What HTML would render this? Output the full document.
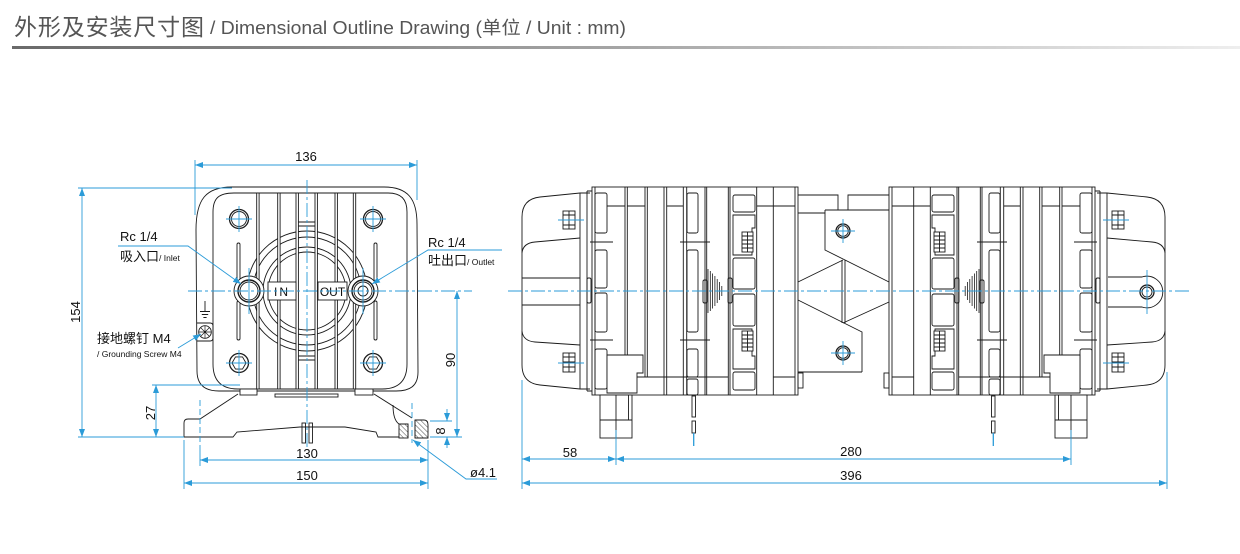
<!DOCTYPE html>
<html><head><meta charset="utf-8">
<style>
html,body{margin:0;padding:0;background:#fff;}
svg{display:block;}
text{font-family:"Liberation Sans","Noto Sans CJK SC",sans-serif;}
</style></head><body>
<svg width="1240" height="554" viewBox="0 0 1240 554" xmlns="http://www.w3.org/2000/svg">
<defs>
<linearGradient id="g" x1="0" x2="1" y1="0" y2="0"><stop offset="0" stop-color="#6a6a6a"/><stop offset="0.5" stop-color="#a6a6a6"/><stop offset="1" stop-color="#eeeeee"/></linearGradient>
<marker id="a" viewBox="0 0 8 6" refX="8" refY="3" markerWidth="8" markerHeight="6" markerUnits="userSpaceOnUse" orient="auto-start-reverse"><path d="M0,0L8,3L0,6z" fill="#2b9bd8"/></marker>
<pattern id="h" width="3.5" height="3.5" patternUnits="userSpaceOnUse" patternTransform="rotate(-45)"><line x1="0" y1="0" x2="0" y2="3.5" stroke="#222" stroke-width="0.8"/></pattern>
</defs>

<!-- Title -->
<text x="14" y="35" font-size="23" fill="#555" textLength="190" font-family="'Liberation Sans','Noto Sans CJK SC',sans-serif">外形及安装尺寸图</text>
<text x="210" y="34" font-size="18" fill="#555" textLength="416" lengthAdjust="spacingAndGlyphs">/ Dimensional Outline Drawing (单位 / Unit : mm)</text>
<rect x="12" y="46" width="1228" height="3" fill="url(#g)"/>

<!-- ================= FRONT VIEW ================= -->
<g fill="none" stroke="#1a1a1a" stroke-width="0.9">
<path d="M196,230 C196,199 206,187 232,187 L384,187 C408,187 417,199 417,224 L418,372 C418,386 410,391 396,391 L219,391 C205,391 197,385 197,371 Z" fill="#fff"/>
<path d="M213,212 C213,198 219,193 234,193 L388,193 C401,193 407,199 407,212 L407,364 C407,381 398,389 382,389 L238,389 C222,389 213,381 213,364 Z"/>
<!-- grille rings -->
<circle cx="307" cy="291" r="60"/>
<circle cx="307" cy="291" r="54"/>
<circle cx="307" cy="291" r="44"/>
<circle cx="307" cy="291" r="39"/>
<!-- fins -->
<g fill="#fff">
<rect x="256.7" y="193" width="2.4" height="196"/>
<rect x="277.7" y="193" width="2.4" height="196"/>
<rect x="296" y="193" width="2.4" height="196"/>
<rect x="315" y="193" width="2.4" height="196"/>
<rect x="335" y="193" width="2.4" height="196"/>
<rect x="353.3" y="193" width="2.4" height="196"/>
</g>
<path d="M298.4,222H315 M298.4,226H315 M298.4,356H315 M298.4,360H315"/>
<!-- slots -->
<rect x="237" y="243" width="3" height="38" rx="1.5"/>
<rect x="237" y="301" width="3" height="39" rx="1.5"/>
<rect x="374" y="243" width="3" height="38" rx="1.5"/>
<rect x="374" y="301" width="3" height="39" rx="1.5"/>
<!-- bosses -->
<circle cx="249" cy="291" r="15" fill="#fff"/>
<circle cx="363" cy="291" r="15" fill="#fff"/>
<circle cx="249" cy="291" r="11" stroke-width="1.4"/>
<circle cx="249" cy="291" r="9"/>
<circle cx="363" cy="291" r="11" stroke-width="1.4"/>
<circle cx="363" cy="291" r="9"/>
<circle cx="363" cy="291" r="5"/>
<!-- IN / OUT boxes -->
<rect x="268" y="282" width="28" height="18" fill="#fff"/>
<rect x="318" y="282" width="29" height="18" fill="#fff"/>
<!-- corner bolts -->
<circle cx="239" cy="219" r="9.5" stroke-width="1.3"/><circle cx="239" cy="219" r="7.5"/>
<circle cx="373" cy="219" r="9.5" stroke-width="1.3"/><circle cx="373" cy="219" r="7.5"/>
<circle cx="239" cy="363" r="9.5" stroke-width="1.3"/><polygon points="246,363 242.5,369.1 235.5,369.1 232,363 235.5,356.9 242.5,356.9"/>
<circle cx="373" cy="363" r="9.5" stroke-width="1.3"/><polygon points="380,363 376.5,369.1 369.5,369.1 366,363 369.5,356.9 376.5,356.9"/>
<!-- feet & bar -->
<rect x="240" y="389" width="17" height="6" fill="#fff"/>
<rect x="355" y="389" width="18" height="6" fill="#fff"/>
<rect x="275" y="394" width="63" height="3" fill="#fff"/>
<!-- ground -->
<path d="M205,301V311 M200,311.5H210 M201.8,314.5H208.2 M203.4,317.5H206.6"/>
<path d="M197,323 H210 Q213,323 213,326 V338 Q213,341 210,341 H197"/>
<circle cx="205" cy="332" r="6.3" fill="#fff"/>
<path d="M200.5,327.5L209.5,336.5 M209.5,327.5L200.5,336.5 M205,325.7V338.3 M198.7,332H211.3" stroke-width="0.7"/>
<!-- base -->
<path d="M238,394 L200,419 L188,419 Q184,419 184,423 L184,437 L233,437 L237,432 L300,427 L345,427 L376,432 L378,437 L399,437"/>
<path d="M374,394 L412,418"/>
<path d="M393,405 Q393,420 399,424"/>
<rect x="399" y="424" width="9" height="14" fill="url(#h)"/>
<path d="M415,420 H424 Q428,420 428,425 V438 H415 Z" fill="url(#h)"/>
<path d="M399,424 H408 V438 M415,420 V438"/>
<!-- pins -->
<rect x="302" y="423" width="3.5" height="20"/>
<rect x="309" y="423" width="3.5" height="20"/>
</g>
<text x="282" y="296" font-size="12" text-anchor="middle" fill="#111" letter-spacing="2">IN</text>
<text x="332.5" y="296" font-size="12" text-anchor="middle" fill="#111">OUT</text>

<!-- front view centerlines & blue -->
<g stroke="#2b9bd8" stroke-width="0.9" fill="none">
<path d="M307,180V450" stroke-dasharray="14 3 3 3"/>
<path d="M188,291H472" stroke-dasharray="14 3 3 3"/>
<path d="M226,219H252 M239,206V232 M360,219H386 M373,206V232 M226,363H252 M239,350V376 M360,363H386 M373,350V376"/>
<path d="M249,268V314 M363,268V314"/>
<path d="M200,400V450" stroke-dasharray="6 3"/>
<path d="M412,403V443" stroke-dasharray="6 3"/>
<path d="M200,450V466 M184,440V489 M428,440V489"/>
<!-- 136 -->
<path d="M195,160V215 M417,160V200"/>
<path d="M195,165H417" marker-start="url(#a)" marker-end="url(#a)"/>
<!-- 154 -->
<path d="M78,188H232 M78,437H184"/>
<path d="M82,188V437" marker-start="url(#a)" marker-end="url(#a)"/>
<!-- 27 -->
<path d="M152,385H240"/>
<path d="M156,385V437" marker-start="url(#a)" marker-end="url(#a)"/>
<!-- 90 / 8 -->
<path d="M430,437H462 M430,421H452"/>
<path d="M457,291V437" marker-start="url(#a)" marker-end="url(#a)"/>
<path d="M447,409V421" marker-end="url(#a)"/>
<path d="M447,448V437" marker-end="url(#a)"/>
<!-- 130 / 150 -->
<path d="M200,460H428" marker-start="url(#a)" marker-end="url(#a)"/>
<path d="M184,483H428" marker-start="url(#a)" marker-end="url(#a)"/>
<!-- leaders -->
<path d="M118,246H188 L241,284" marker-end="url(#a)"/>
<path d="M502,250H428 L372,284" marker-end="url(#a)"/>
<path d="M178,348 L201,334" marker-end="url(#a)"/>
<path d="M497,479H466 L413,440" marker-end="url(#a)"/>
</g>

<g font-size="13" fill="#111">
<text x="306" y="161" text-anchor="middle">136</text>
<text transform="translate(80,312) rotate(-90)" text-anchor="middle">154</text>
<text transform="translate(155,413) rotate(-90)" text-anchor="middle">27</text>
<text transform="translate(455,360) rotate(-90)" text-anchor="middle">90</text>
<text transform="translate(445,431) rotate(-90)" text-anchor="middle">8</text>
<text x="307" y="458" text-anchor="middle">130</text>
<text x="307" y="480" text-anchor="middle">150</text>
<text x="470" y="477">ø4.1</text>
<text x="120" y="241">Rc 1/4</text>
<text x="120" y="261" font-family="'Liberation Sans','Noto Sans CJK SC',sans-serif">吸入口<tspan font-size="8.5">/ Inlet</tspan></text>
<text x="428" y="247">Rc 1/4</text>
<text x="428" y="265" font-family="'Liberation Sans','Noto Sans CJK SC',sans-serif">吐出口<tspan font-size="8.5">/ Outlet</tspan></text>
<text x="97" y="343" font-family="'Liberation Sans','Noto Sans CJK SC',sans-serif">接地螺钉 M4</text>
<text x="97" y="357" font-size="8.5">/ Grounding Screw M4</text>
</g>

<!-- ================= SIDE VIEW ================= -->
<g fill="none" stroke="#1a1a1a" stroke-width="0.9">
<g id="C">
<path d="M590,193 L580,193 L540,197 Q522,199 522,217 L522,365 Q522,383 540,385 L580,389 L590,389" fill="#fff"/>
<path d="M580,193V389 M587,191V391 M587,191H592 M587,391H592"/>
<path d="M522,253 Q523,243 535,242 L580,238 M522,331 Q523,341 535,342 L580,345"/>
<rect x="563" y="211" width="12" height="18" fill="#fff"/>
<path d="M563,215H575 M563,220H575 M563,225H575 M569,211V229"/>
<rect x="563" y="353" width="12" height="19" fill="#fff"/>
<path d="M563,357H575 M563,362H575 M563,367H575 M569,353V372"/>
<rect x="587" y="278" width="4" height="25" rx="1.5"/>
</g>
<path d="M522,278H580 M522,305H580"/>
<use href="#C" transform="matrix(-1 0 0 1 1687 0)"/>
<!-- right cap tab -->
<path d="M1108,277 L1142,277 A15.8,15.8 0 1 1 1142,307 L1108,307" fill="#fff"/>
<circle cx="1147" cy="292" r="7" stroke-width="1.3"/>
<circle cx="1147" cy="292" r="5"/>

<g id="L">
<rect x="592" y="187" width="206" height="208" fill="#fff"/>
<path d="M595,187V395 M625,187V355 M627.3,187V355 M645,187V377 M647.3,187V377 M664,187V395 M666.7,187V395 M683.3,187V395 M686.7,187V395 M705,187V395 M706.7,187V395 M728.3,187V395 M730,187V395 M756.7,187V395 M773.3,187V395 M795,187V395"/>
<path d="M607,206H625 M627,206H645 M667,206H683 M757,206H773 M637,377H728 M773,206H795 M773,377H795"/>
<rect x="595" y="193" width="12" height="40" rx="2"/>
<rect x="595" y="250" width="12" height="38" rx="2"/>
<rect x="595" y="293" width="12" height="39" rx="2"/>
<rect x="595" y="349" width="12" height="40" rx="2"/>
<rect x="687" y="193" width="11" height="40" rx="2"/>
<rect x="687" y="250" width="11" height="82" rx="2"/>
<rect x="687" y="349" width="11" height="28" rx="2"/>
<rect x="687" y="379" width="11" height="16" rx="2"/>
<path d="M590,242H613 M590,340H613 M680,242H710 M680,340H710"/>
<rect x="733" y="195" width="22" height="17" rx="2"/>
<path d="M733,215H755V228H752V255H733Z"/>
<rect x="733" y="258" width="22" height="31" rx="2"/>
<rect x="733" y="294" width="22" height="32" rx="2"/>
<path d="M733,329H752V356H755V369H733Z"/>
<rect x="733" y="372" width="22" height="18" rx="2"/>
<rect x="742" y="232" width="11" height="20" fill="#fff"/>
<path d="M742,236H753 M742,240H753 M742,244H753 M742,248H753 M747.5,232V252"/>
<rect x="742" y="331" width="11" height="20" fill="#fff"/>
<path d="M742,335H753 M742,339H753 M742,343H753 M742,347H753 M747.5,331V351"/>
<rect x="703" y="280" width="4" height="23" rx="1.5"/>
<rect x="728" y="278" width="4" height="25" rx="1.5"/>
<path d="M708,269V313 M710.3,271V311 M712.6,273.5V308.5 M714.9,276V306 M717.2,279V303 M719.5,282V300 M721.8,286V296" stroke-width="0.8"/>
<path d="M607,355H643V373H637V393H607Z" fill="#fff"/>
<rect x="600" y="395" width="32" height="43" fill="#fff"/>
<path d="M616,395V438 M600,420H632 M628.5,395V420"/>
<rect x="692" y="396" width="3.5" height="21" fill="#fff"/>
<rect x="692" y="421" width="3.5" height="12" fill="#fff"/>
</g>
<use href="#L" transform="matrix(-1 0 0 1 1687 0)"/>

<!-- center connector -->
<path d="M798,195H838V210 M848,210V195H889 M798,213H825"/>
<path d="M825,210H889 M825,210V250L889,282"/>
<path d="M862,372H798 M862,372V332L798,300"/>
<path d="M798,282L843,260 M889,302L843,323"/>
<path d="M842,260V323 M845,260V323"/>
<circle cx="843" cy="231" r="7" stroke-width="1.3"/><circle cx="843" cy="231" r="5.3"/>
<circle cx="843" cy="353" r="7" stroke-width="1.3"/><circle cx="843" cy="353" r="5.3"/>
<rect x="798" y="373" width="5" height="15"/>
<rect x="884" y="373" width="5" height="15"/>
</g>

<g stroke="#2b9bd8" stroke-width="0.9" fill="none">
<path d="M508,291H1192" stroke-dasharray="14 3 3 3"/>
<path d="M693.7,433V446 M993.3,433V446" stroke-width="1.3"/>
<path d="M558,220H584 M558,363H584 M1103,220H1129 M1103,363H1129"/>
<path d="M831,231H855 M843,219V243 M831,353H855 M843,341V365"/>
<path d="M1147,270V314"/>
<path d="M522,380V489 M1167,372V489 M616,430V465 M1071,430V465"/>
<path d="M522,459H616" marker-start="url(#a)" marker-end="url(#a)"/>
<path d="M616,459H1071" marker-start="url(#a)" marker-end="url(#a)"/>
<path d="M522,483H1167" marker-start="url(#a)" marker-end="url(#a)"/>
</g>
<g font-size="13" fill="#111" text-anchor="middle">
<text x="570" y="457">58</text>
<text x="851" y="456">280</text>
<text x="851" y="480">396</text>
</g>
</svg>
</body></html>
